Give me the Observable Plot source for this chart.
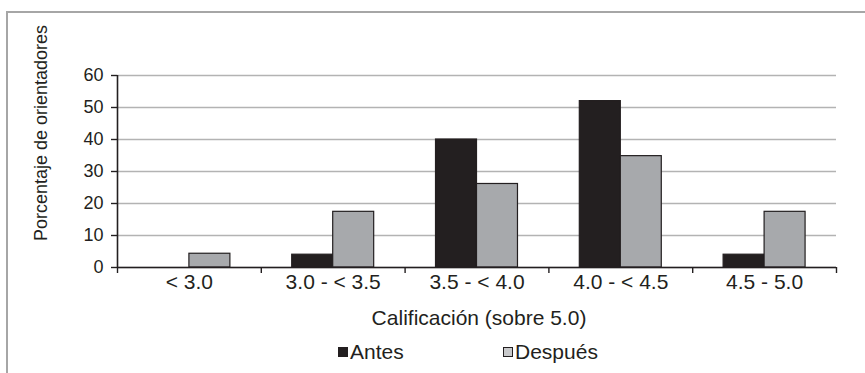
<!DOCTYPE html>
<html>
<head>
<meta charset="utf-8">
<script src="https://cdn.jsdelivr.net/npm/d3@7"></script>
<script src="https://cdn.jsdelivr.net/npm/@observablehq/plot@0.6"></script>
<style>
  html, body { margin: 0; padding: 0; background: #fff; }
  body { width: 865px; height: 373px; position: relative; overflow: hidden;
         font-family: "Liberation Sans", Arial, sans-serif; color: #231f20; }
  #frame { position: absolute; left: 6px; top: 11px; width: 900px; height: 400px;
           border-top: 2px solid #a6a6a6; border-left: 2px solid #a6a6a6; box-sizing: border-box; }
  #chart { position: absolute; left: 0; top: 0; }
  #ylab { position: absolute; left: 41px; top: 133px; transform: translate(-50%, -50%) rotate(-90deg);
          white-space: nowrap; font-size: 18px; }
  #xlab { position: absolute; left: 479px; top: 318px; transform: translate(-50%, -50%);
          white-space: nowrap; font-size: 21px; }
  #legend { position: absolute; top: 352px; left: 0; width: 865px; font-size: 21px; }
  .li { position: absolute; transform: translateY(-50%); display: flex; align-items: center; white-space: nowrap; }
  .sw { width: 10px; height: 10px; box-sizing: border-box; margin-right: 2px; }
</style>
</head>
<body>
<div id="frame"></div>
<div id="chart"></div>
<div id="ylab">Porcentaje de orientadores</div>
<div id="xlab">Calificación (sobre 5.0)</div>
<div id="legend"></div>
<script>
const categories = ["< 3.0", "3.0 - < 3.5", "3.5 - < 4.0", "4.0 - < 4.5", "4.5 - 5.0"];
const series = ["Antes", "Después"];
const antes = [0, 4, 40, 52, 4];
const despues = [4.3, 17.4, 26.1, 34.8, 17.4];
const yTicks = [0, 10, 20, 30, 40, 50, 60];

const colors = { "Antes": "#231f20", "Después": "#a7a9ac" };

const rows = [];
categories.forEach((c, i) => {
  rows.push({ i, cat: c, serie: "Antes", value: antes[i] });
  rows.push({ i, cat: c, serie: "Después", value: despues[i] });
});

const barW = 0.285;
const font = '"Liberation Sans", Arial, sans-serif';

const chart = Plot.plot({
  width: 865,
  height: 373,
  marginLeft: 117,
  marginRight: 29,
  marginTop: 75,
  marginBottom: 106,
  style: { fontFamily: font, fontSize: "18px", color: "#231f20", background: "transparent" },
  x: { type: "linear", domain: [0, categories.length] },
  y: { domain: [0, 60] },
  marks: [
    Plot.gridY(yTicks, { stroke: "#b3b3b3", strokeOpacity: 1, strokeWidth: 1.6 }),
    Plot.rectY(rows.filter(d => d.value > 0), {
      x1: d => d.serie === "Antes" ? d.i + 0.5 - barW : d.i + 0.5,
      x2: d => d.serie === "Antes" ? d.i + 0.5 : d.i + 0.5 + barW,
      y1: 0,
      y2: "value",
      fill: d => colors[d.serie],
      stroke: "#231f20",
      strokeWidth: 1.2
    }),
    Plot.ruleY([0], { stroke: "#231f20", strokeWidth: 1.6 }),
    Plot.ruleX([0], { stroke: "#231f20", strokeWidth: 1.6 }),
    Plot.axisY(yTicks, { tickSize: 6, tickPadding: 8, stroke: "#231f20", strokeWidth: 1.4, label: null, fill: "#231f20", fontSize: 18 }),
    Plot.axisX(d3.range(categories.length + 1), { tickSize: 6, tickFormat: () => "", stroke: "#231f20", strokeWidth: 1.4, label: null }),
    Plot.axisX(categories.map((c, i) => i + 0.5), { tickSize: 0, tickPadding: 7, tickFormat: v => categories[Math.floor(v)], label: null, fill: "#231f20", fontSize: 21 })
  ]
});
document.getElementById("chart").appendChild(chart);

const legend = document.getElementById("legend");
const legendPos = { "Antes": 338, "Después": 503 };
series.forEach(s => {
  const item = document.createElement("div");
  item.className = "li";
  item.style.left = legendPos[s] + "px";
  const sw = document.createElement("span");
  sw.className = "sw";
  sw.style.background = s === "Después" ? "#c8c9cb" : colors[s];
  sw.style.border = "1px solid #231f20";
  item.appendChild(sw);
  const t = document.createElement("span");
  t.textContent = s;
  item.appendChild(t);
  legend.appendChild(item);
});
</script>
</body>
</html>
